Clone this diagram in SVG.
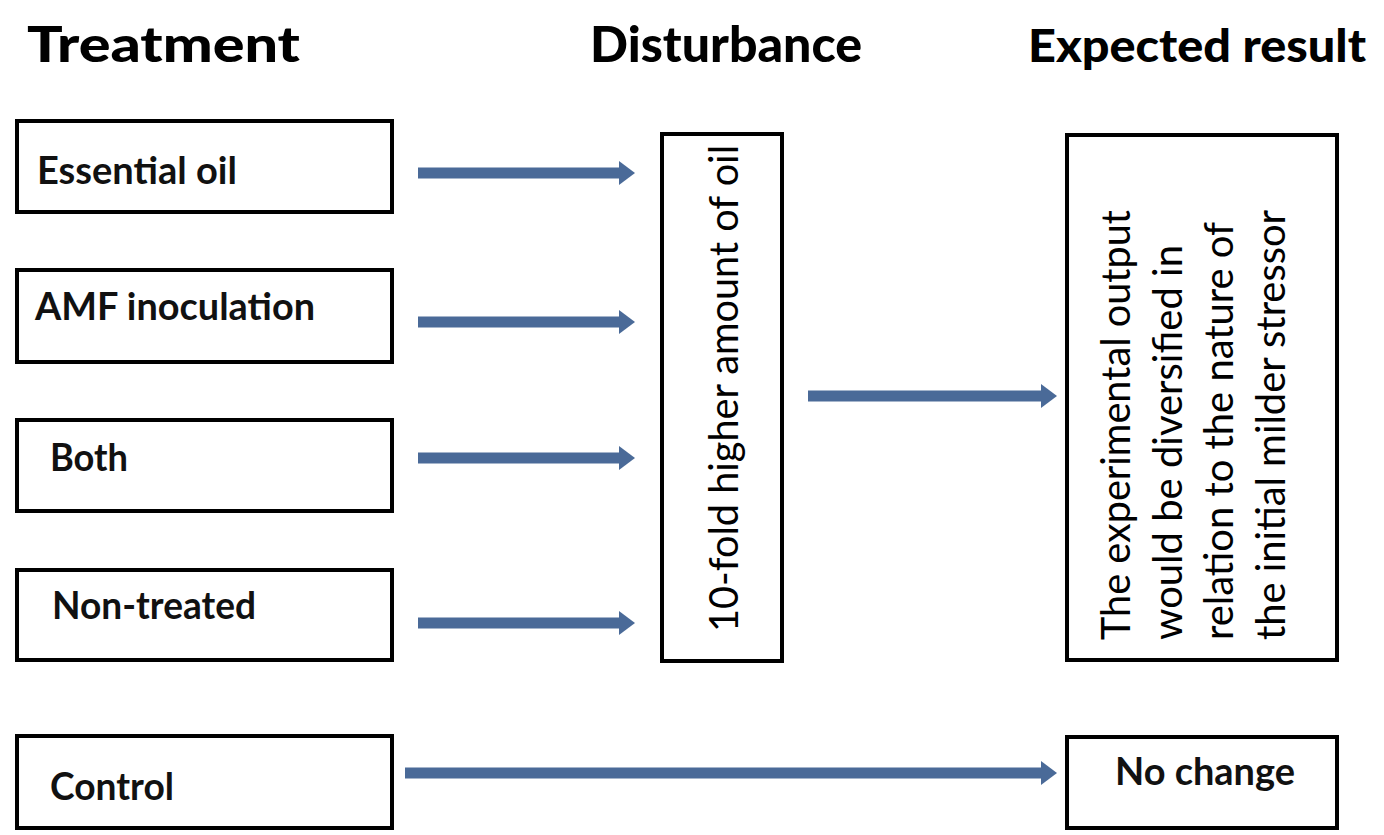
<svg xmlns="http://www.w3.org/2000/svg" width="1384" height="835" viewBox="0 0 1384 835">
  <style>
    .box { fill: #ffffff; stroke: #000000; stroke-width: 4; }
    .hdr { font-family: Lato, "Open Sans", "Liberation Sans", sans-serif; font-weight: 900; font-size: 50px; fill: #000; }
    .lbl { font-family: Lato, "Open Sans", "Liberation Sans", sans-serif; font-weight: 700; font-size: 38px; fill: #111; }
    .vtx { font-family: Lato, "Open Sans", "Liberation Sans", sans-serif; font-weight: 400; font-size: 40px; fill: #000; }
    .conn { stroke: #4A6A98; stroke-width: 11; fill: none; }
  </style>
  <defs>
    <marker id="ah" markerUnits="userSpaceOnUse" markerWidth="16" markerHeight="24" refX="0" refY="12" orient="auto">
      <path d="M0,0 L16,12 L0,24 z" fill="#4A6A98"/>
    </marker>
  </defs>
  <rect width="1384" height="835" fill="#ffffff"/>

  <g id="headers">
    <text class="hdr" x="27" y="62" textLength="273" lengthAdjust="spacingAndGlyphs">Treatment</text>
    <text class="hdr" x="590" y="62" textLength="272" lengthAdjust="spacingAndGlyphs">Disturbance</text>
    <text class="hdr" x="1028" y="62" textLength="338" lengthAdjust="spacingAndGlyphs" style="font-size:46px">Expected result</text>
  </g>

  <g id="node-essential-oil">
    <rect class="box" x="17" y="121" width="375" height="91"/>
    <text class="lbl" x="37" y="184" textLength="200" lengthAdjust="spacingAndGlyphs">Essential oil</text>
  </g>
  <g id="node-amf">
    <rect class="box" x="17" y="270" width="375" height="92"/>
    <text class="lbl" x="35" y="320" textLength="280" lengthAdjust="spacingAndGlyphs">AMF inoculation</text>
  </g>
  <g id="node-both">
    <rect class="box" x="17" y="420" width="375" height="91"/>
    <text class="lbl" x="50" y="471" textLength="78" lengthAdjust="spacingAndGlyphs">Both</text>
  </g>
  <g id="node-non-treated">
    <rect class="box" x="17" y="570" width="375" height="90"/>
    <text class="lbl" x="52" y="619" textLength="204" lengthAdjust="spacingAndGlyphs">Non-treated</text>
  </g>
  <g id="node-control">
    <rect class="box" x="17" y="736" width="375" height="92"/>
    <text class="lbl" x="50" y="800" textLength="124" lengthAdjust="spacingAndGlyphs">Control</text>
  </g>

  <g id="node-disturbance">
    <rect class="box" x="662" y="134" width="120" height="527"/>
    <text class="vtx" transform="translate(738,632) rotate(-90)" x="0" y="0" textLength="487" lengthAdjust="spacingAndGlyphs">10-fold higher amount of oil</text>
  </g>

  <g id="node-expected">
    <rect class="box" x="1067" y="135" width="270" height="525"/>
    <text class="vtx" transform="translate(1130,640) rotate(-90)" x="0" y="0" textLength="430" lengthAdjust="spacingAndGlyphs">The experimental output</text>
    <text class="vtx" transform="translate(1182,640) rotate(-90)" x="0" y="0" textLength="395" lengthAdjust="spacingAndGlyphs">would be diversified in</text>
    <text class="vtx" transform="translate(1233,640) rotate(-90)" x="0" y="0" textLength="418" lengthAdjust="spacingAndGlyphs">relation to the nature of</text>
    <text class="vtx" transform="translate(1285,640) rotate(-90)" x="0" y="0" textLength="430" lengthAdjust="spacingAndGlyphs">the initial milder stressor</text>
  </g>

  <g id="node-no-change">
    <rect class="box" x="1067" y="737" width="270" height="91"/>
    <text class="lbl" x="1115" y="785" textLength="180" lengthAdjust="spacingAndGlyphs">No change</text>
  </g>

  <g id="connectors">
    <line class="conn" x1="418" y1="173" x2="619" y2="173" marker-end="url(#ah)"/>
    <line class="conn" x1="418" y1="322" x2="619" y2="322" marker-end="url(#ah)"/>
    <line class="conn" x1="418" y1="458" x2="619" y2="458" marker-end="url(#ah)"/>
    <line class="conn" x1="418" y1="623" x2="619" y2="623" marker-end="url(#ah)"/>
    <line class="conn" x1="808" y1="396" x2="1041" y2="396" marker-end="url(#ah)"/>
    <line class="conn" x1="405" y1="773" x2="1041" y2="773" marker-end="url(#ah)"/>
  </g>
</svg>
